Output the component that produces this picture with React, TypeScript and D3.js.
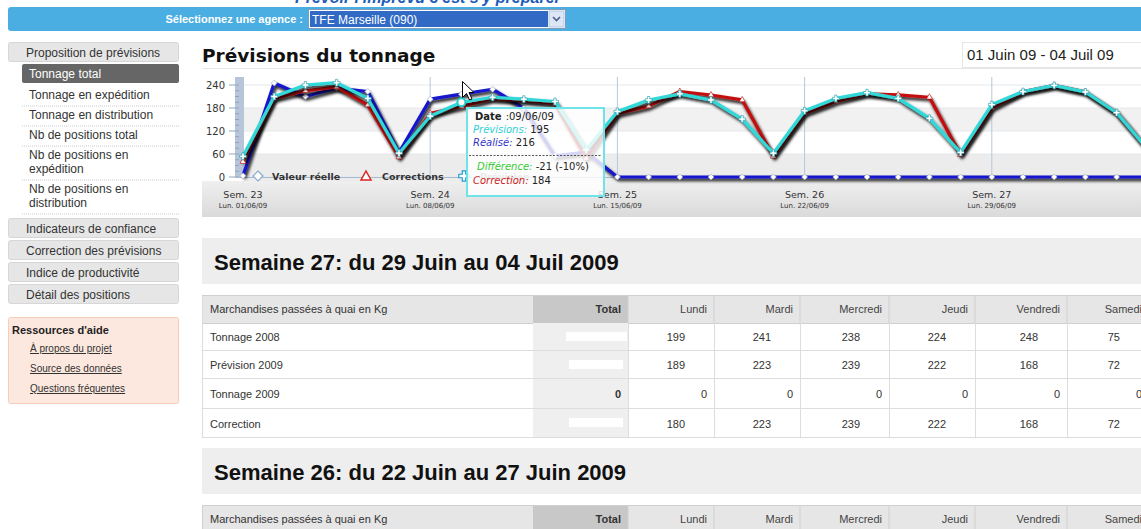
import React from 'react';
import * as d3 from 'd3';

// ---- chart data (tonnes per day, Mon-Sat) ----
const days = [
  '01/06/09', '02/06/09', '03/06/09', '04/06/09', '05/06/09', '06/06/09',
  '08/06/09', '09/06/09', '10/06/09', '11/06/09', '12/06/09', '13/06/09',
  '15/06/09', '16/06/09', '17/06/09', '18/06/09', '19/06/09', '20/06/09',
  '22/06/09', '23/06/09', '24/06/09', '25/06/09', '26/06/09', '27/06/09',
  '29/06/09', '30/06/09', '01/07/09', '02/07/09', '03/07/09', '04/07/09',
];
const weekLabels = ['Sem. 23', 'Sem. 24', 'Sem. 25', 'Sem. 26', 'Sem. 27'];
const mondayLabels = ['Lun. 01/06/09', 'Lun. 08/06/09', 'Lun. 15/06/09', 'Lun. 22/06/09', 'Lun. 29/06/09'];
const yTicks = [0, 60, 120, 180, 240];

const realise = [
  3, 245, 210, 232, 223, 64,
  203, 216, 229, 180, 55, 65,
  0, 0, 0, 0, 0, 0,
  0, 0, 0, 0, 0, 0,
  0, 0, 0, 0, 0, 0,
];
const prevision = [
  54, 210, 240, 246, 205, 62,
  159, 195, 208, 203, 197, 71,
  171, 201, 217, 201, 151, 62,
  173, 205, 220, 205, 153, 64,
  189, 223, 239, 222, 168, 72,
];
const correction = [
  40, 205, 225, 235, 188, 52,
  166, 184, 204, 199, 192, 49,
  165, 185, 223, 214, 201, 54,
  166, 197, 217, 214, 208, 58,
  180, 223, 239, 222, 168, 72,
];

// ---- table data, semaine 27 ----
const dayCols = ['Lundi', 'Mardi', 'Mercredi', 'Jeudi', 'Vendredi', 'Samedi'];
const rowLabels = ['Tonnage 2008', 'Prévision 2009', 'Tonnage 2009', 'Correction'];
const tonnage2008 = [199, 241, 238, 224, 248, 75];
const prevision2009 = [189, 223, 239, 222, 168, 72];
const tonnage2009 = [0, 0, 0, 0, 0, 0];
const correction2009 = [180, 223, 239, 222, 168, 72];

const menuItems = [
  ['Tonnage en expédition'],
  ['Tonnage en distribution'],
  ['Nb de positions total'],
  ['Nb de positions en', 'expédition'],
  ['Nb de positions en', 'distribution'],
];
const menuButtons = ['Indicateurs de confiance', 'Correction des prévisions', 'Indice de productivité', 'Détail des positions'];
const helpLinks = ['À propos du projet', 'Source des données', 'Questions fréquentes'];

const ARIAL = '"Liberation Sans", Arial, sans-serif';
const VERDANA = '"DejaVu Sans", Verdana, sans-serif';

const x = d3.scalePoint<string>().domain(days).range([243, 243 + 29 * 31.2]);
const y = d3.scaleLinear().domain([0, 240]).range([177, 85]);
const line = d3.line<number>().x((_, i) => x(days[i])!).y(d => y(d));

const triangle = d3.symbol(d3.symbolTriangle, 16)()!;
const cross = d3.symbol(d3.symbolCross, 26)()!;
const diamond = 'M0,-3 L3,0 L0,3 L-3,0 Z';

function Sidebar() {
  let yy = 99;
  const items: React.ReactNode[] = [];
  menuItems.forEach((lines, i) => {
    lines.forEach((t, j) => {
      items.push(<text key={`m${i}-${j}`} x={29} y={yy + j * 14}>{t}</text>);
    });
    const sepY = yy + (lines.length - 1) * 14 + 7;
    items.push(<line key={`s${i}`} x1={22} x2={179} y1={sepY} y2={sepY} stroke="#ccc" strokeDasharray="1,1" />);
    yy = sepY + 13;
  });
  return (
    <g fontFamily={ARIAL} fontSize={12} fill="#333">
      <rect x={8.5} y={42.5} width={170} height={19} rx={2} fill="#e6e6e6" stroke="#d6d6d6" />
      <text x={26} y={56.5}>Proposition de prévisions</text>
      <rect x={22} y={64} width={157} height={19} rx={2} fill="#666" />
      <text x={29} y={78} fill="#fff">Tonnage total</text>
      {items}
      {menuButtons.map((b, i) => (
        <g key={b}>
          <rect x={8.5} y={218.5 + i * 22} width={170} height={19} rx={2} fill="#e6e6e6" stroke="#d6d6d6" />
          <text x={26} y={232.5 + i * 22}>{b}</text>
        </g>
      ))}
      <rect x={8.5} y={317.5} width={170} height={86} rx={2} fill="#fde8df" stroke="#f8cdb8" />
      <text x={12} y={334} fontSize={11} fontWeight="bold" fill="#222">Ressources d'aide</text>
      {helpLinks.map((l, i) => (
        <text key={l} x={30} y={352 + i * 20} fontSize={10} textDecoration="underline" fill="#333">{l}</text>
      ))}
    </g>
  );
}

function Chart() {
  const series = [
    { data: realise, color: '#1414cc', marker: diamond, mstroke: '#9ab' },
    { data: correction, color: '#c41010', marker: triangle, mstroke: '#b00' },
    { data: prevision, color: '#30d8d8', marker: cross, mstroke: '#19a' },
  ];
  return (
    <g>
      <defs>
        <filter id="shadow" x="-5%" y="-10%" width="110%" height="130%">
          <feDropShadow dx={1.5} dy={2.5} stdDeviation={1.4} floodColor="#000" floodOpacity={1} />
        </filter>
        <linearGradient id="panel" x1="0" y1="0" x2="0" y2="1">
          <stop offset="0" stopColor="#efefef" />
          <stop offset="1" stopColor="#dadada" />
        </linearGradient>
      </defs>
      {/* panel */}
      <rect x={202} y={181} width={939} height={36} fill="url(#panel)" />
      {/* bands */}
      <rect x={244} y={y(180)} width={897} height={y(120) - y(180)} fill="#f1f1f1" />
      <rect x={244} y={y(60)} width={897} height={y(0) - y(60) + 4} fill="#ececec" />
      {yTicks.map(v => (
        <line key={v} x1={236} x2={1141} y1={y(v)} y2={y(v)} stroke="#e3e7ec" />
      ))}
      {/* week separators */}
      {weekLabels.slice(1).map((_, i) => {
        const xx = x(days[(i + 1) * 6])!;
        return <line key={i} x1={xx} x2={xx} y1={77} y2={181} stroke="#b8c8da" />;
      })}
      {/* left band */}
      <rect x={235} y={77} width={9} height={100} fill="#b7c5d9" />
      {d3.range(0, 241, 15).map(v => (
        <line key={v} x1={v % 60 === 0 ? 229 : 235} x2={239} y1={y(v)} y2={y(v)} stroke="#8fa3bf" />
      ))}
      <line x1={235} x2={1141} y1={177.5} y2={177.5} stroke="#a7bad0" />
      {yTicks.map(v => (
        <text key={v} x={225} y={y(v) + 4} textAnchor="end" fontFamily={VERDANA} fontSize={10} fill="#333">{v}</text>
      ))}
      {/* x labels */}
      {weekLabels.map((w, i) => {
        const xx = x(days[i * 6])!;
        return (
          <g key={w} fontFamily={VERDANA} textAnchor="middle" fill="#333">
            <text x={xx} y={198} fontSize={9.5}>{w}</text>
            <text x={xx} y={208} fontSize={7}>{mondayLabels[i]}</text>
          </g>
        );
      })}
      {/* series */}
      {series.map((s, k) => (
        <g key={k}>
          <path d={line(s.data)!} fill="none" stroke={s.color} strokeWidth={3.2} strokeLinejoin="round" filter="url(#shadow)" />
          {s.data.map((v, i) => (
            <path key={i} d={s.marker} transform={`translate(${x(days[i])},${y(v)})`} fill="#fff" stroke={s.mstroke} strokeWidth={0.6} />
          ))}
        </g>
      ))}
      {/* hovered point */}
      <circle cx={x(days[7])} cy={y(prevision[7])} r={4} fill="#fff" stroke="#2cc" strokeWidth={2} />
      {/* legend */}
      <g fontFamily={VERDANA} fontSize={9.5} fontWeight="bold" fill="#333">
        <path d="M0,-5 L5,0 L0,5 L-5,0 Z" transform="translate(258,176)" fill="#fff" stroke="#8ac" strokeWidth={1.2} />
        <text x={272} y={179.5}>Valeur réelle</text>
        <path d="M0,-5 L5,4 L-5,4 Z" transform="translate(366,176)" fill="#fff" stroke="#d22" strokeWidth={1.5} />
        <text x={382} y={179.5}>Corrections</text>
        <path d={d3.symbol(d3.symbolCross, 60)()!} transform="translate(464,176)" fill="#fff" stroke="#29c" strokeWidth={1.2} />
        <text x={480} y={179.5} fill="#888">Prévision</text>
      </g>
      {/* tooltip */}
      <g fontFamily={VERDANA} fontSize={10}>
        <rect x={467} y={108} width={137} height={88} fill="#fff" fillOpacity={0.82} stroke="#6fe3ea" strokeWidth={2} />
        <text x={475} y={120} fill="#222"><tspan fontWeight="bold">Date</tspan><tspan dx={4}>:{days[7]}</tspan></text>
        <text x={473} y={133} fill="#222"><tspan fill="#2fd0d8" fontStyle="italic">Prévisions:</tspan><tspan> {prevision[7]}</tspan></text>
        <text x={473} y={146} fill="#222"><tspan fill="#3333cc" fontStyle="italic">Réalisé:</tspan><tspan> {realise[7]}</tspan></text>
        <line x1={469} x2={602} y1={155.5} y2={155.5} stroke="#555" strokeDasharray="2,1.5" />
        <text x={477} y={170} fill="#222"><tspan fill="#33cc33" fontStyle="italic">Différence:</tspan><tspan> {prevision[7] - realise[7]} ({Math.round(((prevision[7] - realise[7]) / realise[7]) * 100)}%)</tspan></text>
        <text x={473} y={184} fill="#222"><tspan fill="#cc2222" fontStyle="italic">Correction:</tspan><tspan> {correction[7]}</tspan></text>
      </g>
      {/* mouse cursor */}
      <path d="M0,0 L0,16 L4,12 L7,18.5 L9.5,17.5 L6.5,11 L11.5,11 Z" transform="translate(462.5,81.5)" fill="#fff" stroke="#000" strokeWidth={1} />
    </g>
  );
}

function WeekTable({ top, title, rows }: { top: number; title: string; rows: number[][] | null }) {
  const edges = [628, 714, 800, 889, 975, 1067, 1149];
  const headH = 28;
  const rowH = [28, 28, 30, 29];
  let ry = top + 57 + headH;
  return (
    <g fontFamily={ARIAL}>
      <rect x={202} y={top} width={939} height={46} fill="#eeeeee" />
      <text x={214} y={top + 32} fontSize={22} fontWeight="bold" fill="#111">{title}</text>
      <rect x={202.5} y={top + 57.5} width={940} height={headH} fill="#e6e6e6" stroke="#d0d0d0" />
      <rect x={533} y={top + 58} width={95} height={headH - 1} fill="#c8c8c8" />
      <g fontSize={11} fill="#333">
        <text x={210} y={top + 75}>Marchandises passées à quai en Kg</text>
        <text x={621} y={top + 75} textAnchor="end" fontWeight="bold">Total</text>
        {dayCols.map((d, i) => (
          <g key={d}>
            <line x1={edges[i]} x2={edges[i]} y1={top + 58} y2={top + 57 + headH} stroke="#d0d0d0" />
            <text x={edges[i + 1] - 7} y={top + 75} textAnchor="end" fill="#444">{d}</text>
          </g>
        ))}
        {rows && rows.map((r, k) => {
          const y0 = ry;
          ry += rowH[k];
          const base = y0 + rowH[k] / 2 + 4;
          const zeroRow = k === 2;
          return (
            <g key={k}>
              <rect x={533} y={y0} width={95} height={rowH[k]} fill="#efefef" />
              <line x1={202} x2={1141} y1={y0 + rowH[k] - 0.5} y2={y0 + rowH[k] - 0.5} stroke="#ddd" />
              <text x={210} y={base} fill="#333">{rowLabels[k]}</text>
              {zeroRow ? (
                <text x={621} y={base} textAnchor="end" fontWeight="bold" fill="#333">0</text>
              ) : (
                <rect x={566 + (k === 0 ? 0 : 3)} y={y0 + 9} width={k === 0 ? 61 : 54} height={9} fill="#fff" />
              )}
              {r.map((v, i) => (
                <g key={i}>
                  <line x1={edges[i] + 0.5} x2={edges[i] + 0.5} y1={y0} y2={y0 + rowH[k]} stroke="#ddd" />
                  <text x={edges[i + 1] - (zeroRow ? 7 : 29)} y={base} textAnchor="end" fill="#333">{v}</text>
                </g>
              ))}
            </g>
          );
        })}
        {rows && <line x1={202.5} x2={202.5} y1={top + 58} y2={ry} stroke="#ddd" />}
      </g>
    </g>
  );
}

export default function App() {
  return (
    <div style={{ position: 'absolute', left: 0, top: 0 }}>
      <svg width={1141} height={529} style={{ display: 'block', background: '#fff' }}>
        {/* top tagline, cut by the window */}
        <text x={295} y={3} fontFamily={ARIAL} fontSize={16} fontStyle="italic" fontWeight="bold" fill="#1c5cb8">Prévoir l'imprévu c'est s'y préparer</text>
        {/* agency bar */}
        <rect x={8} y={7} width={1145} height={24} rx={3} fill="#4aaee2" />
        <text x={303} y={23} textAnchor="end" fontFamily={ARIAL} fontSize={11} fontWeight="bold" fill="#fff">Sélectionnez une agence :</text>
        <rect x={308.5} y={9.5} width={257} height={19} fill="#fff" stroke="#7f9db9" />
        <rect x={310} y={11} width={238} height={16} fill="#316ac5" />
        <text x={312} y={23.5} fontFamily={ARIAL} fontSize={12} fill="#fff">TFE Marseille (090)</text>
        <rect x={549} y={11} width={15} height={16} fill="#dde6f5" stroke="#b6c7e6" />
        <path d="M553,17 L556.5,20.5 L560,17" fill="none" stroke="#4d6185" strokeWidth={1.6} />

        <Sidebar />

        {/* title + date range */}
        <text x={202} y={62} fontFamily={VERDANA} fontSize={18.5} fontWeight="bold" fill="#111">Prévisions du tonnage</text>
        <line x1={202} x2={1141} y1={68.5} y2={68.5} stroke="#e6e6e6" />
        <rect x={962.5} y={42.5} width={180} height={25} fill="#fff" stroke="#e6e6e6" />
        <text x={967} y={60} fontFamily={ARIAL} fontSize={15} fill="#222">01 Juin 09 - 04 Juil 09</text>

        <Chart />

        <WeekTable top={238} title="Semaine 27: du 29 Juin au 04 Juil 2009" rows={[tonnage2008, prevision2009, tonnage2009, correction2009]} />
        <WeekTable top={448} title="Semaine 26: du 22 Juin au 27 Juin 2009" rows={null} />
      </svg>
    </div>
  );
}
